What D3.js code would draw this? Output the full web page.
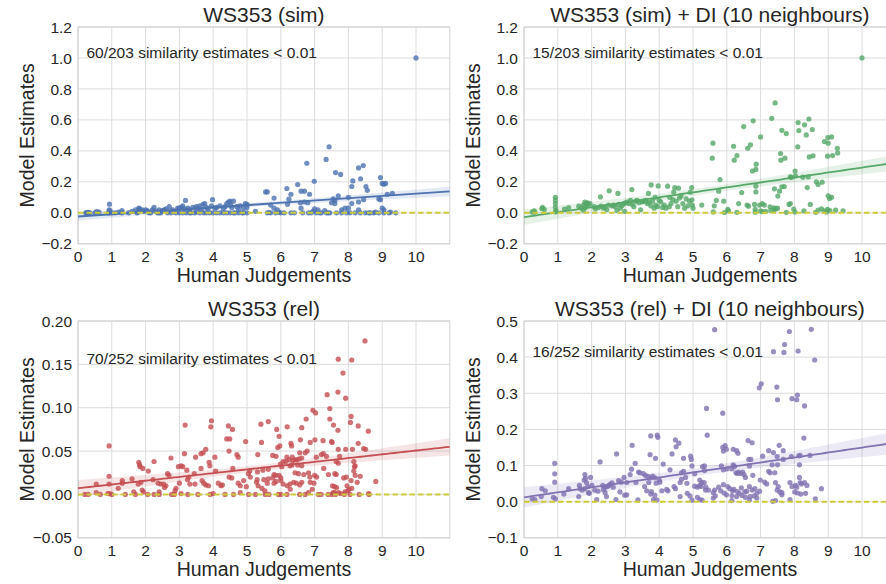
<!DOCTYPE html>
<html><head><meta charset="utf-8">
<script src="https://cdn.jsdelivr.net/npm/d3@7"></script>
<style>
body{margin:0;background:#fff}
svg{display:block}
text{font-family:"Liberation Sans",Arial,Helvetica,sans-serif;fill:#262626}
</style>
</head><body>
<svg id="chart" width="886" height="584"></svg>
<script>
// ---------- DATA (human judgement, model estimate) ----------
const simData = [
[0.23,0],[0.3,0.003],[0.5,0],[0.55,0.008],[0.6,0],[0.62,0.004],[0.9,0],[0.92,0.02],[0.93,0.056],[0.95,0.012],[0.92,0],[0.3,0],
[1.2,0.005],[1.3,0.015],[1.3,0],[1.6,0.01],[1.7,0.02],[1.75,0],[1.8,0.03],[1.82,0.025],[1.85,0.015],[1.9,0.02],[1.95,0.01],[1.78,0.005],
[2.0,0.02],[2.05,0.015],[2.1,0],[2.2,0.02],[2.25,0.035],[2.3,0.01],[2.4,0],[2.5,0.015],[2.55,0.02],[2.6,0.025],[2.7,0.04],[2.75,0],[2.8,0.02],[2.85,0.005],[2.9,0],[2.95,0.03],[2.4,0.02],[2.65,0],
[3.0,0.03],[3.05,0.035],[3.1,0.045],[3.15,0.025],[3.18,0.08],[3.2,0],[3.25,0.03],[3.3,0.02],[3.4,0.035],[3.45,0],[3.5,0.04],[3.55,0.03],[3.6,0.045],[3.65,0.02],[3.7,0.055],[3.72,0],[3.75,0.06],[3.8,0.035],[3.85,0.025],[3.9,0],[3.95,0.045],[3.98,0.085],[3.5,0.005],[3.35,0],
[4.05,0.03],[4.1,0.035],[4.2,0],[4.3,0.025],[4.35,0.04],[4.4,0.06],[4.45,0.07],[4.5,0.075],[4.52,0.05],[4.55,0.035],[4.6,0.075],[4.65,0],[4.7,0.04],[4.75,0.02],[4.8,0.045],[4.85,0],[4.9,0.03],[4.95,0.06],[5.0,0.055],[5.0,0.035],[5.0,0],[4.4,0],[4.2,0.045],
[5.25,0.01],[5.55,0.135],[5.6,0.135],[5.6,0],[5.7,0.05],[5.7,0],[5.8,0.095],[5.8,0.03],[5.85,0],[5.9,0.02],[6.0,0],
[6.18,0.157],[6.2,0.055],[6.24,0.088],[6.3,0.12],[6.3,0],[6.5,0.183],[6.58,0.065],[6.6,0.14],[6.6,0.03],[6.65,0],[6.7,0.14],[6.7,0.07],[6.77,0.32],[6.8,0.065],[6.82,0],[6.85,0.12],[6.9,0],[6.99,0.204],[7.0,0.025],[6.95,0.01],
[7.05,0],[7.1,0.02],[7.15,0],[7.3,0.015],[7.34,0.345],[7.4,0],[7.43,0.426],[7.45,0],[7.5,0.065],[7.55,0.09],[7.6,0.08],[7.62,0.26],[7.7,0.11],[7.77,0.248],[7.8,0.02],[7.8,0],[7.9,0.03],[7.95,0],[7.6,0.06],[7.35,0],
[8.0,0.1],[8.0,0.03],[8.05,0],[8.1,0.06],[8.1,0.17],[8.13,0.206],[8.3,0.29],[8.3,0.07],[8.3,0.02],[8.35,0],[8.36,0.22],[8.44,0.305],[8.45,0.085],[8.5,0],[8.52,0.17],[8.56,0.145],[8.65,0],[8.75,0],[8.9,0.09],[8.9,0],[8.95,0.085],[8.95,0.228],
[9.0,0.19],[9.05,0.185],[9.0,0.03],[9.05,0.02],[9.05,0],[9.1,0.19],[9.15,0.12],[9.2,0],[9.3,0.125],[9.4,0],[10,1.0],
[0.25,0],[0.35,0],[1.0,0],[1.1,0],[1.5,0],[2.15,0],[2.35,0],[2.45,0],[3.0,0],[3.1,0],[3.3,0],[3.6,0],[3.8,0],[4.0,0],[4.1,0],[4.3,0],[4.5,0],[4.6,0],[4.75,0],[4.9,0],[5.65,0.002],[6.1,0],[6.4,0],[7.2,0],[7.65,0],[8.2,0],[8.6,0],[9.25,0.005],[5.95,0.003],[8.8,0.004]
];

const simDIData = [
[7.43,0.71],[7.33,0.61],[8.43,0.606],[6.78,0.594],[8.11,0.583],[8.3,0.568],[6.5,0.557],[7.63,0.533],[8.13,0.531],[8.53,0.538],[7.76,0.512],[8.35,0.503],[7.0,0.49],[8.99,0.486],[9.1,0.49],[8.89,0.46],[9.0,0.45],[5.59,0.45],[6.2,0.43],[6.7,0.439],[6.62,0.417],[8.1,0.426],[9.27,0.417],[9.28,0.387],[7.59,0.383],[5.57,0.353],[6.3,0.37],[6.22,0.34],[7.6,0.34],[7.72,0.353],[8.44,0.361],[8.55,0.368],[8.98,0.366],[9.13,0.37],[6.87,0.314],[6.86,0.28],[6.76,0.27],[8.02,0.27],[8.03,0.239],[7.88,0.232],[8.41,0.232],[5.8,0.215],[8.38,0.163],[8.7,0.183],[8.82,0.198],[7.91,0.228],[7.41,0.155],[7.63,0.168],[7.56,0.14],[6.86,0.172],[6.86,0.135],[7.51,0.108],[5.76,0.14],[6.44,0.131],[9.0,0.11],[9.04,0.092],[5.69,0.08],[5.91,0.075],[5.63,0.045],[6.03,0.022],[5.93,0.002],[5.26,0.05],[6.6,0.05],[6.64,0.043],[6.82,0.054],[6.97,0.05],[7.11,0.05],[7.28,0.039],[7.39,0.032],[7.84,0.054],[7.88,0.06],[8.47,0.054],[8.8,0.026],[7.98,0.024],[6.84,0.022],[8.98,0.022],[9.22,0.017],[9.44,0.013],[10,1.0],
[6.3,0.003],[6.84,0.004],[7.0,0.012],[7.05,0.008],[7.3,0.015],[7.4,0.02],[7.45,0.025],[7.76,0.003],[8.02,0.005],[8.28,0.012],[8.63,0.003],[8.95,0.006],[9.05,0.015],[6.05,0.013],[5.6,0.006],[7.15,0.01],[7.5,0.03],[8.7,0.017],[8.88,0.013],
[7.05,0.06],[8.25,0.23],[8.65,0.2],[6.35,0.06],[9.1,0.1],[7.7,0.17],
[0.24,0.005],[0.31,0.004],[0.3,0.012],[0.53,0.028],[0.6,0.021],[0.55,0.035],[0.93,0.1],[0.93,0.08],[0.93,0.06],[0.93,0.035],[0.93,0.006],[0.95,0.015],[1.2,0.024],[1.32,0.034],[1.62,0.043],[1.7,0.03],[1.76,0.05],[1.8,0.07],[1.84,0.06],[1.9,0.05],[1.82,0.035],[1.88,0.065],[1.76,0.017],[1.95,0.06],[2.07,0.04],[2.11,0.026],[2.2,0.034],[2.28,0.043],[2.26,0.103],[2.35,0.03],[2.4,0.038],[2.45,0.02],[2.52,0.142],[2.5,0.05],[2.6,0.045],[2.65,0.05],[2.7,0.04],[2.75,0.015],[2.78,0.125],[2.8,0.055],[2.85,0.03],[2.9,0.045],[2.95,0.06],[2.98,0.01],[3.0,0.065],[3.05,0.07],[3.1,0.06],[3.15,0.08],[3.19,0.15],[3.2,0.055],[3.25,0.04],[3.3,0.075],[3.35,0.08],[3.4,0.065],[3.45,0.02],[3.5,0.07],[3.55,0.075],[3.6,0.08],[3.65,0.06],[3.68,0.125],[3.7,0.07],[3.75,0.045],[3.76,0.18],[3.8,0.075],[3.85,0.03],[3.88,0.1],[3.9,0.05],[3.95,0.04],[3.97,0.174],[4.0,0.08],[4.05,0.07],[4.1,0.035],[4.15,0.05],[4.2,0.03],[4.25,0.172],[4.3,0.04],[4.31,0.1],[4.35,0.06],[4.4,0.085],[4.43,0.135],[4.46,0.163],[4.5,0.075],[4.55,0.04],[4.57,0.159],[4.6,0.095],[4.65,0.108],[4.7,0.06],[4.75,0.03],[4.8,0.09],[4.85,0.045],[4.9,0.075],[4.92,0.133],[4.96,0.163],[4.97,0.084],[4.98,0.05],[5.0,0.03]
];

const relData = [
[0.92,0.056],[0.92,0.021],[0.92,0.012],[0.88,0.001],[0.94,0.001],[0.54,0.012],[0.54,0.002],[0.3,0],[0.2,0],[0.66,0],
[1.19,0.007],[1.31,0.016],[1.31,0.013],[1.6,0.018],[1.65,0.003],[1.8,0.037],[1.82,0.034],[1.84,0.032],[1.78,0.012],[1.86,0.014],[1.92,0.03],[1.9,0.005],[1.94,0.003],
[2.08,0.027],[2.25,0.038],[2.22,0.017],[2.06,0],[2.37,0.013],[2.45,0.012],[2.53,0.012],[2.6,0.01],[2.56,0.008],[2.4,0.003],[2.65,0.024],[2.69,0.022],[2.75,0.042],[2.77,0],[2.9,0.007],[2.87,0.004],
[2.97,0.032],[3.05,0.033],[3.1,0.032],[3.17,0.08],[3.15,0.047],[3.22,0.028],[3.28,0.02],[3.24,0.017],[3.31,0.012],[3.0,0.013],[3.44,0.024],[3.46,0.012],[3.48,0.043],[3.64,0.047],[3.7,0.048],[3.64,0.03],[3.67,0.016],[3.72,0.013],[3.78,0.011],[3.86,0.01],[3.78,0.052],[3.88,0.037],[3.9,0.033],[3.93,0.078],[3.95,0.085],[3.91,0],
[4.05,0.043],[4.07,0.027],[4.15,0.013],[4.23,0.01],[4.27,0.011],[4.45,0.079],[4.57,0.075],[4.4,0.064],[4.49,0.064],[4.47,0.05],[4.58,0.03],[4.47,0.02],[4.55,0.019],[4.7,0.046],[4.74,0.043],[4.96,0.061],[4.74,0.013],[4.8,0.01],[4.9,0.016],[4.98,0.009],[5.04,0.024],[5.08,0.027],[5.1,0.02],[5.28,0.014],[5.33,0.01],
[1.4,0],[1.7,0],[2.25,0],[2.4,0],[3.25,0],[3.55,0],[4.35,0],[4.6,0],[5.05,0],[5.25,0],[1.0,0],[2.85,0],[3.05,0.001],[4.0,0.001],[4.8,0.002],
[8.49,0.177],[7.7,0.156],[8.1,0.155],[7.84,0.14],[7.37,0.115],[7.69,0.118],[7.92,0.111],[6.95,0.097],[7.03,0.094],[7.45,0.099],[6.75,0.087],[6.19,0.078],[6.62,0.077],[7.45,0.087],[7.56,0.08],[8.08,0.09],[8.06,0.083],[8.29,0.079],[8.59,0.073],[7.69,0.074],[5.41,0.081],[5.63,0.084],[5.88,0.075],[5.95,0.067],[5.43,0.06],[5.32,0.046],[5.91,0.054],[5.97,0.056],[6.3,0.059],[6.32,0.056],[6.58,0.063],[6.87,0.06],[7.01,0.063],[7.25,0.062],[7.5,0.061],[7.52,0.06],[7.26,0.047],[7.35,0.044],[7.7,0.052],[7.92,0.052],[8.12,0.052],[8.29,0.059],[8.45,0.053],[8.51,0.052],[6.56,0.048],[6.72,0.048],[6.78,0.05],[6.34,0.043],[6.42,0.04],[6.18,0.043],[6.07,0.038],[6.15,0.038],[5.76,0.045],[5.86,0.044],[6.62,0.042],[7.05,0.043],[7.2,0.046],[7.74,0.044],[6.24,0.04],[6.36,0.039],[6.47,0.04],[6.54,0.041],[5.99,0.035],[6.03,0.032],[6.27,0.033],[6.33,0.034],[6.5,0.034],[6.62,0.033],[5.63,0.029],[5.47,0.028],[5.31,0.026],[7.27,0.03],[7.64,0.038],[7.7,0.036],[8.16,0.038],[8.2,0.033],[8.18,0.032],[8.16,0.027],[7.86,0.019],[7.94,0.02],[8.2,0.022],[8.35,0.021],[8.26,0.014],[8.08,0.016],[7.41,0.023],[7.6,0.024],[7.64,0.023],[7.0,0.022],[7.06,0.02],[6.82,0.025],[6.86,0.02],[6.42,0.025],[6.52,0.024],[6.68,0.023],[5.8,0.023],[5.85,0.022],[5.95,0.022],[6.0,0.019],[5.76,0.019],[5.5,0.017],[5.3,0.017],[5.63,0.018],[5.6,0.013],[5.8,0.013],[5.86,0.015],[6.0,0.016],[6.07,0.012],[6.19,0.01],[6.27,0.012],[6.38,0.014],[6.46,0.013],[6.56,0.011],[6.62,0.014],[6.87,0.014],[6.98,0.013],[7.53,0.01],[7.59,0.009],[7.65,0.008],[7.96,0.01],[8.02,0.006],[8.1,0.007],[8.81,0.015],[7.9,0.003],[7.98,0.004],[8.6,0.001],[7.55,0.002],[7.6,0.002],[7.71,0.002],[7.77,0.001],[5.44,0.007],[5.53,0.004],[6.28,0.006],[6.82,0.002],[6.93,0.006],
[5.54,0],[5.65,0],[5.93,0],[6.18,0],[6.56,0],[6.72,0],[7.11,0],[7.19,0],[7.51,0],[7.62,0],[7.88,0],[8.32,0],[8.61,0],[6.0,0],[7.4,0],[8.05,0]
];

const relDIData = [
[0.91,0.106],[0.91,0.077],[0.91,0.054],[0.87,0.012],[0.93,0.008],[0.53,0.036],[0.63,0.03],[0.51,0.014],[0.24,0.008],[0.32,0.006],[1.18,0.021],[1.32,0.036],[1.64,0.045],[1.66,0.036],[1.72,0.032],[1.62,0.014],[1.8,0.075],[1.82,0.065],[1.78,0.06],[1.85,0.053],[1.89,0.042],[1.8,0.036],[1.91,0.025],[1.97,0.067],[2.01,0.045],[1.93,0.023],[2.25,0.11],[2.09,0.032],[2.19,0.029],[2.15,0.006],[2.33,0.045],[2.41,0.04],[2.47,0.042],[2.51,0.045],[2.55,0.048],[2.6,0.052],[2.64,0.04],[2.4,0.025],[2.44,0.014],[2.35,0.034],[2.74,0.132],[2.72,0.006],[2.8,0.058],[2.88,0.054],[2.96,0.067],[3.04,0.053],[2.84,0.027],[2.98,0.018],[3.04,0.019],[3.14,0.075],[3.18,0.09],[3.2,0.156],[3.29,0.106],[3.31,0.053],[3.37,0.005],[3.39,0.082],[3.43,0.08],[3.53,0.078],[3.59,0.073],[3.67,0.07],[3.75,0.066],[3.81,0.071],[3.87,0.066],[3.91,0.051],[3.69,0.053],[3.57,0.042],[3.63,0.03],[3.75,0.021],[3.77,0.028],[3.87,0.018],[3.83,0.006],[3.93,0.005],[3.73,0.13],[3.75,0.182],[3.94,0.184],[3.96,0.178],[3.89,0.12],[4.0,0.06],[4.02,0.054],[4.08,0.03],[4.22,0.034],[4.26,0.03],[4.12,0.104],[4.32,0.088],[4.38,0.132],[4.48,0.171],[4.5,0.152],[4.58,0.162],[4.44,0.042],[4.48,0.036],[4.62,0.053],[4.66,0.062],[4.66,0.08],[4.72,0.084],[4.62,0.014],[4.72,0.12],[4.78,0.067],[4.82,0.051],[4.83,0.023],[4.91,0.016],[4.93,0.126],[4.95,0.117],[4.97,0.099],[5.05,0.077],[5.05,0.043],[5.13,0.04],[5.2,0.045],[5.24,0.042],[5.13,0.012],[5.34,0.099],[5.4,0.258],[5.42,0.184],[5.2,0.006],[5.27,0.004],[5.37,0.032],[4.97,0.004],
[5.64,0.476],[7.85,0.471],[8.5,0.477],[7.71,0.435],[7.38,0.415],[7.69,0.413],[8.11,0.417],[8.6,0.392],[6.96,0.315],[7.02,0.326],[7.48,0.317],[7.5,0.282],[7.93,0.285],[8.07,0.282],[8.09,0.295],[8.3,0.265],[5.88,0.245],[8.28,0.176],[6.63,0.169],[6.75,0.163],[5.88,0.15],[5.95,0.155],[5.99,0.145],[5.9,0.14],[6.19,0.145],[6.29,0.141],[6.33,0.134],[7.55,0.156],[7.67,0.141],[7.24,0.141],[7.38,0.136],[7.06,0.126],[7.49,0.125],[7.91,0.125],[8.13,0.127],[8.17,0.128],[8.46,0.128],[8.15,0.102],[7.34,0.102],[7.67,0.117],[5.28,0.097],[5.34,0.086],[5.84,0.099],[5.9,0.088],[6.19,0.102],[6.23,0.097],[6.27,0.08],[6.31,0.078],[6.35,0.082],[6.41,0.078],[6.47,0.082],[6.51,0.075],[6.15,0.091],[6.0,0.091],[6.65,0.117],[6.71,0.117],[6.67,0.099],[7.24,0.084],[7.28,0.08],[7.42,0.08],[7.5,0.102],[6.77,0.073],[6.55,0.067],[6.99,0.06],[7.12,0.054],[7.18,0.049],[7.44,0.053],[7.52,0.042],[7.49,0.032],[7.57,0.027],[7.63,0.025],[7.63,0.019],[7.87,0.053],[7.93,0.042],[8.03,0.045],[8.07,0.04],[8.15,0.067],[8.17,0.053],[8.21,0.049],[8.3,0.053],[8.37,0.045],[8.01,0.027],[8.09,0.024],[8.19,0.021],[8.33,0.023],[8.8,0.036],[8.62,0.008],[7.87,0.006],[7.36,0.001],[7.44,0.003],[5.6,0.025],[5.64,0.032],[5.76,0.04],[5.82,0.03],[5.9,0.047],[5.92,0.024],[5.46,0.032],[5.38,0.04],[5.6,0.01],[5.66,0.016],[6.03,0.042],[6.09,0.036],[6.17,0.03],[6.21,0.034],[6.31,0.028],[6.37,0.023],[6.43,0.038],[6.53,0.027],[6.59,0.029],[6.67,0.042],[6.75,0.032],[6.83,0.036],[6.89,0.023],[6.97,0.029],[5.99,0.019],[6.15,0.017],[6.29,0.014],[6.45,0.017],[6.55,0.012],[6.69,0.014],[6.81,0.016],[6.89,0.01],[6.15,0.003],[6.67,0.005],[5.2,0.06],[5.26,0.053],[5.33,0.053]
];

const titles = ["WS353 (sim)", "WS353 (sim) + DI (10 neighbours)", "WS353 (rel)", "WS353 (rel) + DI (10 neighbours)"];
const notes = ["60/203 similarity estimates < 0.01", "15/203 similarity estimates < 0.01", "70/252 similarity estimates < 0.01", "16/252 similarity estimates < 0.01"];
const noteY = [1.0, 1.0, 0.15, 0.4];
const yDomains = [[-0.2, 1.2], [-0.2, 1.2], [-0.05, 0.2], [-0.1, 0.5]];
const yTicks = [
  [-0.2, 0, 0.2, 0.4, 0.6, 0.8, 1.0, 1.2],
  [-0.2, 0, 0.2, 0.4, 0.6, 0.8, 1.0, 1.2],
  [-0.05, 0, 0.05, 0.10, 0.15, 0.20],
  [-0.1, 0, 0.1, 0.2, 0.3, 0.4, 0.5]
];
const yFormats = [".1f", ".1f", ".2f", ".1f"];
const xTicks = [0,1,2,3,4,5,6,7,8,9,10];
const xDomain = [0, 11];
const colors = ["#4C72B0", "#55A868", "#C44E52", "#8172B2"];
const datasets = [simData, simDIData, relData, relDIData];
const xLabel = "Human Judgements";
const yLabel = "Model Estimates";

// ---------- LAYOUT ----------
const W = 886, H = 584;
const plotW = 371.8, plotH = 216.8;
const origins = [[78, 27], [524, 27], [78, 321], [524, 321]];

const svg = d3.select("#chart");
svg.append("rect").attr("width", W).attr("height", H).attr("fill", "#fff");

function fit(data) {
  const n = data.length;
  const mx = d3.mean(data, d => d[0]), my = d3.mean(data, d => d[1]);
  let sxx = 0, sxy = 0;
  data.forEach(d => { sxx += (d[0]-mx)**2; sxy += (d[0]-mx)*(d[1]-my); });
  const b = sxy / sxx, a = my - b*mx;
  let sse = 0;
  data.forEach(d => { sse += (d[1] - (a + b*d[0]))**2; });
  const s = Math.sqrt(sse / (n - 2));
  const t = 1.97;
  return {a, b, ci: x => t * s * Math.sqrt(1/n + (x-mx)**2/sxx)};
}

datasets.forEach((data, i) => {
  const [left, top] = origins[i];
  const x = d3.scaleLinear().domain(xDomain).range([left, left + plotW]);
  const y = d3.scaleLinear().domain(yDomains[i]).range([top + plotH, top]);
  const g = svg.append("g");
  const clipId = "clip" + i;
  svg.append("clipPath").attr("id", clipId).append("rect")
    .attr("x", left).attr("y", top).attr("width", plotW).attr("height", plotH);

  // grid
  g.selectAll(".gx").data(xTicks).join("line")
    .attr("x1", d => x(d)).attr("x2", d => x(d)).attr("y1", top).attr("y2", top + plotH)
    .attr("stroke", "#dcdcdc").attr("stroke-width", 1);
  g.selectAll(".gy").data(yTicks[i]).join("line")
    .attr("x1", left).attr("x2", left + plotW).attr("y1", d => y(d)).attr("y2", d => y(d))
    .attr("stroke", "#dcdcdc").attr("stroke-width", 1);
  g.append("rect").attr("x", left).attr("y", top).attr("width", plotW).attr("height", plotH)
    .attr("fill", "none").attr("stroke", "#d0d0d0").attr("stroke-width", 1);

  const inner = g.append("g").attr("clip-path", `url(#${clipId})`);

  // scatter
  inner.selectAll("circle").data(data).join("circle")
    .attr("cx", d => x(d[0])).attr("cy", d => y(d[1])).attr("r", 2.6)
    .attr("fill", colors[i]).attr("fill-opacity", 0.8);

  // regression + CI
  const f = fit(data);
  const xs = d3.range(0, 101).map(k => xDomain[0] + (xDomain[1]-xDomain[0]) * k / 100);
  const band = xs.map(v => ({x: v, y0: f.a + f.b*v - f.ci(v), y1: f.a + f.b*v + f.ci(v)}));
  inner.append("path").datum(band)
    .attr("d", d3.area().x(d => x(d.x)).y0(d => y(d.y0)).y1(d => y(d.y1)))
    .attr("fill", colors[i]).attr("fill-opacity", 0.15);
  inner.append("path").datum(xs)
    .attr("d", d3.line().x(v => x(v)).y(v => y(f.a + f.b*v)))
    .attr("fill", "none").attr("stroke", colors[i]).attr("stroke-width", 1.8);

  // zero dashed line
  inner.append("line").attr("x1", x(xDomain[0])).attr("x2", x(xDomain[1]))
    .attr("y1", y(0)).attr("y2", y(0))
    .attr("stroke", "#cccc3a").attr("stroke-width", 2).attr("stroke-dasharray", "5.5,3");

  // tick labels
  const fmt = d3.format(yFormats[i]);
  g.selectAll(".yt").data(yTicks[i]).join("text")
    .attr("x", left - 6).attr("y", d => y(d)).attr("dy", "0.36em")
    .attr("text-anchor", "end").style("font-size", "15.5px")
    .text(d => fmt(d).replace("-", "\u2212"));
  g.selectAll(".xt").data(xTicks).join("text")
    .attr("x", d => x(d)).attr("y", top + plotH + 18)
    .attr("text-anchor", "middle").style("font-size", "15.5px")
    .text(d => d);

  // labels
  g.append("text").attr("x", left + plotW/2).attr("y", top + plotH + 38)
    .attr("text-anchor", "middle").style("font-size", "19.5px").text(xLabel);
  g.append("text").attr("transform", `translate(${left - 44},${top + plotH/2}) rotate(-90)`)
    .attr("text-anchor", "middle").style("font-size", "19.5px").text(yLabel);
  g.append("text").attr("x", left + plotW/2).attr("y", top - 5)
    .attr("text-anchor", "middle").style("font-size", "21px").text(titles[i]);
  g.append("text").attr("x", x(0.25)).attr("y", y(noteY[i]))
    .style("font-size", "15.5px").text(notes[i]);
});
</script>
</body></html>
